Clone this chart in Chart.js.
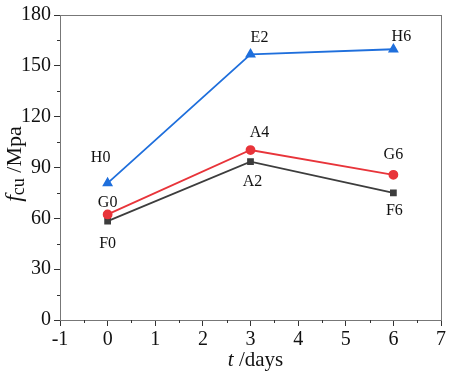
<!DOCTYPE html>
<html>
<head>
<meta charset="utf-8">
<script src="https://cdn.jsdelivr.net/npm/chart.js@4"></script>
<style>
  body { margin: 0; background: #fff; }
  #wrap { width: 450px; height: 373px; }
</style>
</head>
<body>
<div id="wrap"><canvas id="chart"></canvas></div>
<script>
// days on the x axis
const days = [0, 3, 6];

// strength values (MPa)
const seriesH = [80.8, 156.8, 159.8];
const seriesG = [62.3, 100.3, 85.7];
const seriesF = [58.4, 93.5, 75.0];

// point labels
const labelsH = ['H0', 'E2', 'H6'];
const labelsG = ['G0', 'A4', 'G6'];
const labelsF = ['F0', 'A2', 'F6'];

const serif = "'Liberation Serif', 'Times New Roman', serif";

const toPoints = vals => vals.map((v, i) => ({ x: days[i], y: v }));

// label offsets per dataset, per point (dx, dy in px)
const labelOffsets = [
    [[-7, -25], [9, -17], [8, -12]],
    [[0, -12], [9, -17], [0, -20]],
    [[0, 23], [2, 20], [1, 18]]
];

// box round the plot + minor ticks
const framePlugin = {
    id: 'frame',
    afterDraw(chart) {
        const { ctx, chartArea: a, scales } = chart;
        ctx.save();
        ctx.strokeStyle = '#777';
        ctx.lineWidth = 1;
        ctx.strokeRect(a.left + 0.5, a.top + 0.5, a.right - a.left, a.bottom - a.top);
        ctx.strokeStyle = '#333';
        ctx.beginPath();
        for (let v = -0.5; v < 7; v += 1) {
            const px = Math.round(scales.x.getPixelForValue(v)) + 0.5;
            ctx.moveTo(px, a.bottom);
            ctx.lineTo(px, a.bottom + 3);
        }
        for (let v = 15; v < 180; v += 30) {
            const py = Math.round(scales.y.getPixelForValue(v)) + 0.5;
            ctx.moveTo(a.left, py);
            ctx.lineTo(a.left - 3, py);
        }
        ctx.stroke();
        ctx.restore();
    }
};

// text beside the points
const labelPlugin = {
    id: 'pointLabels',
    afterDatasetsDraw(chart) {
        const { ctx } = chart;
        ctx.save();
        ctx.font = '16px ' + serif;
        ctx.fillStyle = '#111';
        ctx.textAlign = 'center';
        ctx.textBaseline = 'middle';
        chart.data.datasets.forEach((ds, di) => {
            const meta = chart.getDatasetMeta(di);
            meta.data.forEach((pt, i) => {
                const [dx, dy] = labelOffsets[di][i];
                ctx.fillText(ds.pointText[i], pt.x + dx, pt.y + dy);
            });
        });
        ctx.restore();
    }
};

// axis titles with italic letters
const titlePlugin = {
    id: 'axisTitles',
    afterDraw(chart) {
        const { ctx, chartArea: a } = chart;
        ctx.save();
        ctx.fillStyle = '#111';
        ctx.textBaseline = 'alphabetic';

        // x title: t /days
        const cx = (a.left + a.right) / 2 + 5;
        const parts = [['italic 21px ' + serif, 't'], ['21px ' + serif, ' /days']];
        let total = 0;
        parts.forEach(p => { ctx.font = p[0]; total += ctx.measureText(p[1]).width; });
        let x = cx - total / 2;
        parts.forEach(p => {
            ctx.font = p[0];
            ctx.fillText(p[1], x, 366);
            x += ctx.measureText(p[1]).width;
        });

        // y title: f_cu /Mpa (rotated)
        ctx.translate(21, 164);
        ctx.rotate(-Math.PI / 2);
        const yparts = [
            ['italic 24px ' + serif, 'f', 0],
            ['18px ' + serif, 'cu', 3],
            ['22px ' + serif, ' /Mpa', 0]
        ];
        total = 0;
        yparts.forEach(p => { ctx.font = p[0]; total += ctx.measureText(p[1]).width; });
        x = -total / 2;
        yparts.forEach(p => {
            ctx.font = p[0];
            ctx.fillText(p[1], x, p[2]);
            x += ctx.measureText(p[1]).width;
        });
        ctx.restore();
    }
};

new Chart(document.getElementById('chart'), {
    type: 'line',
    data: {
        datasets: [
            {
                data: toPoints(seriesH), pointText: labelsH,
                borderColor: '#1f6fdc', backgroundColor: '#1f6fdc',
                pointStyle: 'triangle', pointRadius: 4.5, borderWidth: 1.8
            },
            {
                data: toPoints(seriesG), pointText: labelsG,
                borderColor: '#e8343a', backgroundColor: '#e8343a',
                pointStyle: 'circle', pointRadius: 4, borderWidth: 1.8
            },
            {
                data: toPoints(seriesF), pointText: labelsF,
                borderColor: '#3d3d3d', backgroundColor: '#3d3d3d',
                pointStyle: 'rect', pointRadius: 3.5, borderWidth: 1.8
            }
        ]
    },
    options: {
        responsive: true,
        maintainAspectRatio: false,
        animation: false,
        layout: { padding: { left: 0, right: 9, top: 12, bottom: 0 } },
        plugins: { legend: { display: false }, tooltip: { enabled: false } },
        scales: {
            x: {
                type: 'linear', min: -1, max: 7,
                ticks: { stepSize: 1, color: '#111', font: { family: serif, size: 20 }, padding: 2 },
                grid: { drawOnChartArea: false, drawTicks: true, tickLength: 6, color: '#333' },
                border: { display: false },
                afterFit: s => { s.height = 53; }
            },
            y: {
                min: 0, max: 180,
                ticks: { stepSize: 30, color: '#111', font: { family: serif, size: 20 }, padding: 3 },
                grid: { drawOnChartArea: false, drawTicks: true, tickLength: 6, color: '#333' },
                border: { display: false },
                afterFit: s => { s.width = 60; }
            }
        }
    },
    plugins: [framePlugin, labelPlugin, titlePlugin]
});
</script>
</body>
</html>
